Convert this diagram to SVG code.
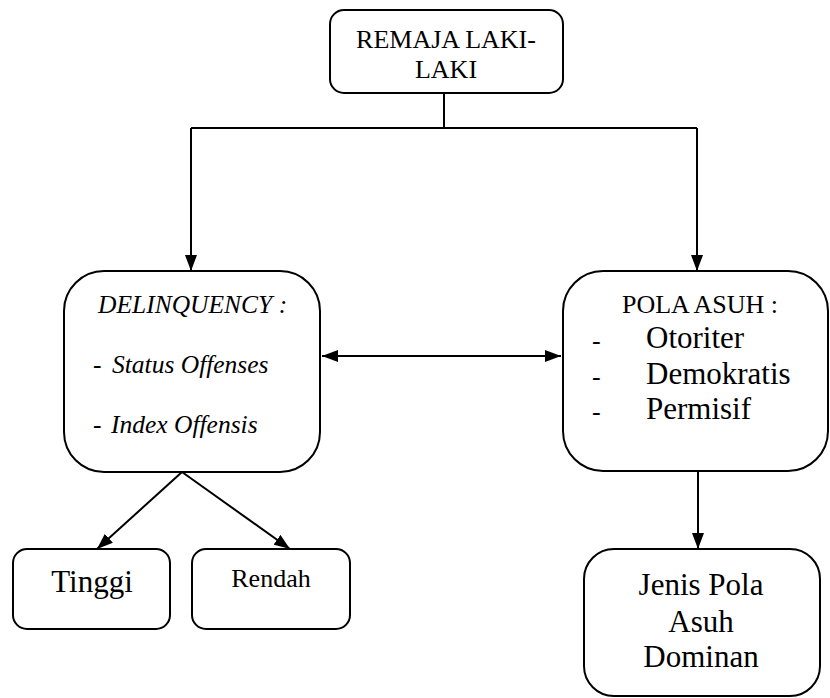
<svg xmlns="http://www.w3.org/2000/svg" width="830" height="698" viewBox="0 0 830 698">
<style>
.box{fill:#fff;stroke:#000;stroke-width:2}
.ln{fill:none;stroke:#000;stroke-width:2}
</style>
<defs>
<marker id="ah" viewBox="0 0 16 12" refX="16" refY="6" markerWidth="16" markerHeight="12" markerUnits="userSpaceOnUse" orient="auto-start-reverse">
<path d="M0,0 L16,6 L0,12 Z" fill="#000"/>
</marker>
</defs>
<rect width="830" height="698" fill="#fff"/>
<g id="connectors">
<path class="ln" d="M444,93 V128"/>
<path class="ln" d="M191,128 H697"/>
<path class="ln" d="M191,128 V271" marker-end="url(#ah)"/>
<path class="ln" d="M697,128 V271" marker-end="url(#ah)"/>
<path class="ln" d="M322,356 H561" marker-start="url(#ah)" marker-end="url(#ah)"/>
<path class="ln" d="M182,472 L97,549" marker-end="url(#ah)"/>
<path class="ln" d="M182,472 L290,549" marker-end="url(#ah)"/>
<path class="ln" d="M698,471 V549" marker-end="url(#ah)"/>
</g>
<g font-family="Liberation Serif, Times New Roman, serif" fill="#000">
<g id="remaja">
<rect class="box" x="330" y="10" width="233" height="83" rx="14"/>
<text x="446" y="48" font-size="26" text-anchor="middle">REMAJA LAKI-</text>
<text x="446" y="78" font-size="26" text-anchor="middle">LAKI</text>
</g>
<g id="delinquency">
<rect class="box" x="64" y="271" width="256" height="201" rx="40"/>
<text x="98" y="313" font-size="25.5" font-style="italic">DELINQUENCY :</text>
<text x="93" y="373" font-size="25.5">-</text>
<text x="112" y="373" font-size="25.5" font-style="italic">Status Offenses</text>
<text x="93" y="433" font-size="25.5">-</text>
<text x="111" y="433" font-size="25.5" font-style="italic">Index Offensis</text>
</g>
<g id="polaasuh">
<rect class="box" x="563" y="271" width="265" height="200" rx="40"/>
<text x="622" y="313" font-size="26">POLA ASUH :</text>
<text x="592" y="349" font-size="26">-</text>
<text x="646" y="348" font-size="31">Otoriter</text>
<text x="592" y="385" font-size="26">-</text>
<text x="646" y="384" font-size="31">Demokratis</text>
<text x="592" y="420" font-size="26">-</text>
<text x="646" y="419" font-size="31">Permisif</text>
</g>
<g id="tinggi">
<rect class="box" x="13" y="549" width="157" height="80" rx="14"/>
<text x="92" y="592" font-size="31" text-anchor="middle">Tinggi</text>
</g>
<g id="rendah">
<rect class="box" x="192" y="549" width="158" height="80" rx="14"/>
<text x="271" y="587" font-size="26" text-anchor="middle">Rendah</text>
</g>
<g id="jenis">
<rect class="box" x="584" y="549" width="236" height="147" rx="30"/>
<text x="701" y="595" font-size="31" text-anchor="middle">Jenis Pola</text>
<text x="701" y="632" font-size="31" text-anchor="middle">Asuh</text>
<text x="701" y="667" font-size="31" text-anchor="middle">Dominan</text>
</g>
</g>
</svg>
